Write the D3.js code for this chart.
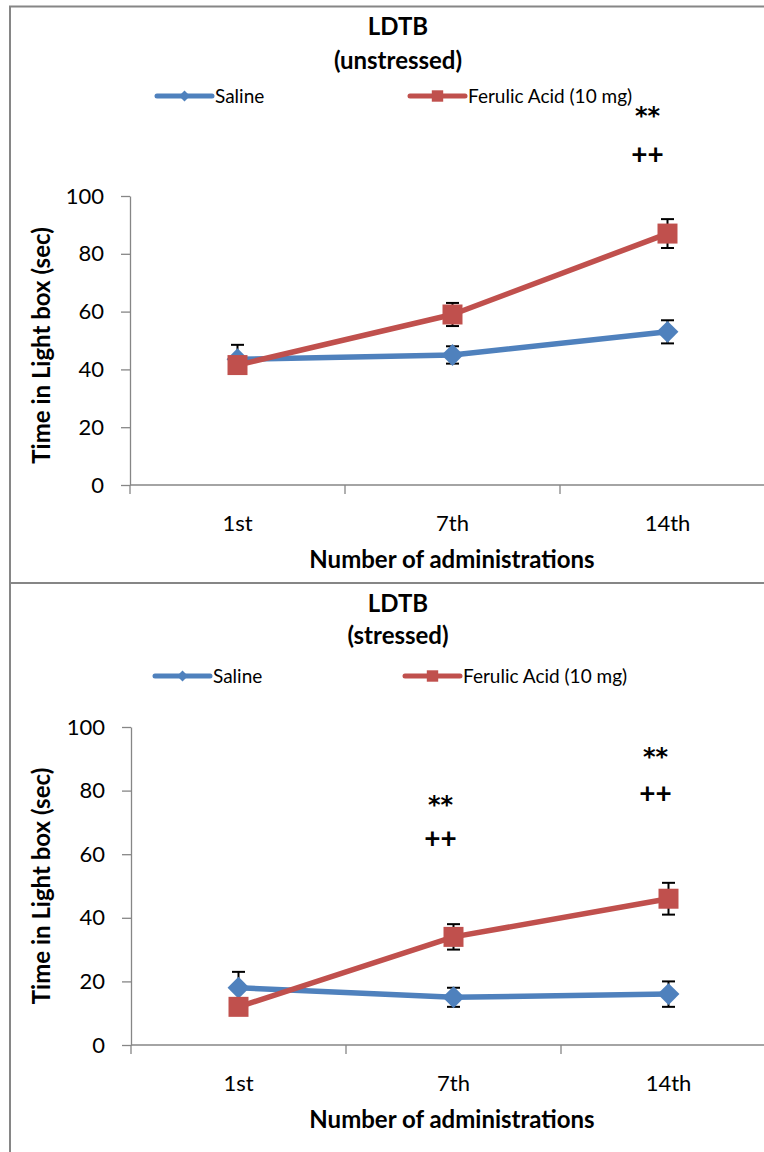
<!DOCTYPE html>
<html>
<head>
<meta charset="utf-8">
<script src="https://cdn.jsdelivr.net/npm/d3@7"></script>
<style>
  body { margin: 0; background: #fff; }
  svg { display: block; font-family: Lato, "Open Sans", sans-serif; }
</style>
</head>
<body>
<div id="chart"></div>
<script>
// Chart data
const categories = ["1st", "7th", "14th"];
const yTicks = [0, 20, 40, 60, 80, 100];

const salineTop = [43.5, 45, 53];
const salineTopErr = [5, 3, 4];
const ferulicTop = [41.5, 59, 87];
const ferulicTopErr = [2, 4, 5];

const salineBottom = [18, 15, 16];
const salineBottomErr = [5, 3, 4];
const ferulicBottom = [12, 34, 46];
const ferulicBottomErr = [2, 4, 5];

// Significance marks, placed at a value on the y scale (text baseline)
const marksTop = [{cat: "14th", text: "**", y: 125}, {cat: "14th", text: "++", y: 111}];
const marksBottom = [
  {cat: "7th", text: "**", y: 73}, {cat: "7th", text: "++", y: 62},
  {cat: "14th", text: "**", y: 88}, {cat: "14th", text: "++", y: 76}
];

const blue = "#4F81BD";
const red = "#C0504D";
const axisGrey = "#868686";

var width = 764;
var height = 1152;

var svg = d3.select("#chart").append("svg")
  .attr("width", width)
  .attr("height", height);

// Outer frame (top, left) and divider between the two charts
svg.append("line").attr("x1", 9).attr("x2", width).attr("y1", 6.5).attr("y2", 6.5)
  .attr("stroke", axisGrey).attr("stroke-width", 2);
svg.append("line").attr("x1", 10).attr("x2", 10).attr("y1", 6).attr("y2", height)
  .attr("stroke", axisGrey).attr("stroke-width", 2);
svg.append("line").attr("x1", 10).attr("x2", width).attr("y1", 583).attr("y2", 583)
  .attr("stroke", axisGrey).attr("stroke-width", 2);

var diamond = {
  draw: function(context, size) {
    var r = Math.sqrt(size / 2);
    context.moveTo(0, -r);
    context.lineTo(r, 0);
    context.lineTo(0, r);
    context.lineTo(-r, 0);
    context.closePath();
  }
};

function drawPanel(cfg) {
  var g = svg.append("g");

  var x = d3.scaleBand().domain(categories).range([cfg.left, cfg.left + 645]).padding(0);
  var y = d3.scaleLinear().domain([0, 100]).range([cfg.zeroY, cfg.topY]);
  var cx = function(c) { return x(c) + x.bandwidth() / 2; };

  // Titles
  g.append("text").attr("x", 398).attr("y", cfg.titleY).attr("text-anchor", "middle")
    .attr("font-size", 24).attr("font-weight", "bold").text("LDTB");
  g.append("text").attr("x", 398).attr("y", cfg.titleY + cfg.titleGap).attr("text-anchor", "middle")
    .attr("font-size", 24).attr("font-weight", "bold").text(cfg.subtitle);

  // Legend
  var legend = [
    {name: "Saline", color: blue, shape: diamond, size: 60, x: cfg.legendX[0]},
    {name: "Ferulic Acid (10 mg)", color: red, shape: d3.symbolSquare, size: 130, x: cfg.legendX[1]}
  ];
  var lg = g.selectAll(".legend").data(legend).enter().append("g")
    .attr("transform", function(d) { return "translate(" + d.x + "," + cfg.legendY + ")"; });
  lg.append("line").attr("x1", 0).attr("x2", 55).attr("y1", 0).attr("y2", 0)
    .attr("stroke", function(d) { return d.color; }).attr("stroke-width", 5)
    .attr("stroke-linecap", "round");
  lg.append("path").attr("transform", "translate(27.5,0)")
    .attr("d", function(d) { return d3.symbol().type(d.shape).size(d.size)(); })
    .attr("fill", function(d) { return d.color; });
  lg.append("text").attr("x", 58).attr("y", 7).attr("font-size", 19).text(function(d) { return d.name; });

  // Y axis
  var yAxis = d3.axisLeft(y).tickValues(yTicks).tickSize(9).tickSizeOuter(0);
  var ya = g.append("g").attr("transform", "translate(" + cfg.left + ",0)").call(yAxis);
  ya.select(".domain").attr("stroke", axisGrey).attr("stroke-width", 1.3);
  ya.selectAll(".tick line").attr("stroke", axisGrey).attr("stroke-width", 1.3);
  ya.selectAll(".tick text").attr("font-size", 22).attr("font-family", "Lato, sans-serif")
    .attr("fill", "#000").attr("x", -26);

  // X axis with ticks at category boundaries
  var edges = categories.map(function(c) { return x(c); }).concat([x.range()[1]]);
  g.append("line").attr("x1", cfg.left).attr("x2", x.range()[1])
    .attr("y1", y(0)).attr("y2", y(0)).attr("stroke", axisGrey).attr("stroke-width", 1.3);
  g.selectAll(".xtick").data(edges).enter().append("line")
    .attr("x1", function(d) { return d; }).attr("x2", function(d) { return d; })
    .attr("y1", y(0)).attr("y2", y(0) + 9)
    .attr("stroke", axisGrey).attr("stroke-width", 1.3);
  g.selectAll(".xlabel").data(categories).enter().append("text")
    .attr("x", function(d) { return cx(d); }).attr("y", y(0) + 46)
    .attr("text-anchor", "middle").attr("font-size", 22).text(function(d) { return d; });

  // Axis titles
  g.append("text").attr("x", 452).attr("y", y(0) + 83).attr("text-anchor", "middle")
    .attr("font-size", 24).attr("font-weight", "bold").text("Number of administrations");
  g.append("text")
    .attr("transform", "translate(50," + (y(50) + cfg.yTitleDy) + ") rotate(-90)")
    .attr("text-anchor", "middle").attr("font-size", 24).attr("font-weight", "bold")
    .text("Time in Light box (sec)");

  var series = [
    {values: cfg.saline, err: cfg.salineErr, color: blue, shape: diamond, size: 240},
    {values: cfg.ferulic, err: cfg.ferulicErr, color: red, shape: d3.symbolSquare, size: 400}
  ];

  // Error bars (behind the markers)
  series.forEach(function(s) {
    var eb = g.append("g").attr("stroke", "#000").attr("stroke-width", 2);
    categories.forEach(function(c, i) {
      var hi = y(s.values[i] + s.err[i]), lo = y(s.values[i] - s.err[i]);
      eb.append("line").attr("x1", cx(c)).attr("x2", cx(c)).attr("y1", hi).attr("y2", lo);
      eb.append("line").attr("x1", cx(c) - 6.5).attr("x2", cx(c) + 6.5).attr("y1", hi).attr("y2", hi);
      eb.append("line").attr("x1", cx(c) - 6.5).attr("x2", cx(c) + 6.5).attr("y1", lo).attr("y2", lo);
    });
  });

  var line = d3.line()
    .x(function(d, i) { return cx(categories[i]); })
    .y(function(d) { return y(d); });

  series.forEach(function(s) {
    g.append("path").datum(s.values).attr("d", line)
      .attr("fill", "none").attr("stroke", s.color).attr("stroke-width", 5.5)
      .attr("stroke-linejoin", "round");
    g.selectAll(null).data(s.values).enter().append("path")
      .attr("transform", function(d, i) { return "translate(" + cx(categories[i]) + "," + y(d) + ")"; })
      .attr("d", d3.symbol().type(s.shape).size(s.size)())
      .attr("fill", s.color);
  });

  // Significance marks
  g.selectAll(".mark").data(cfg.marks).enter().append("text")
    .attr("x", function(d) { return cx(d.cat) + cfg.marksDx; })
    .attr("y", function(d) { return y(d.y); })
    .attr("text-anchor", "middle").attr("font-weight", "bold")
    .attr("font-size", function(d) { return d.text === "**" ? 24 : 28; })
    .attr("font-family", function(d) { return d.text === "**" ? "'DejaVu Sans', sans-serif" : "Lato, sans-serif"; })
    .text(function(d) { return d.text; });
}

drawPanel({
  left: 130, zeroY: 485, topY: 196,
  titleY: 35, titleGap: 34, subtitle: "(unstressed)", yTitleDy: 5,
  legendY: 96, legendX: [157, 410],
  saline: salineTop, salineErr: salineTopErr,
  ferulic: ferulicTop, ferulicErr: ferulicTopErr,
  marks: marksTop, marksDx: -20
});

drawPanel({
  left: 131, zeroY: 1045, topY: 727,
  titleY: 612, titleGap: 32, subtitle: "(stressed)", yTitleDy: 0,
  legendY: 676, legendX: [155, 405],
  saline: salineBottom, salineErr: salineBottomErr,
  ferulic: ferulicBottom, ferulicErr: ferulicBottomErr,
  marks: marksBottom, marksDx: -13
});
</script>
</body>
</html>
